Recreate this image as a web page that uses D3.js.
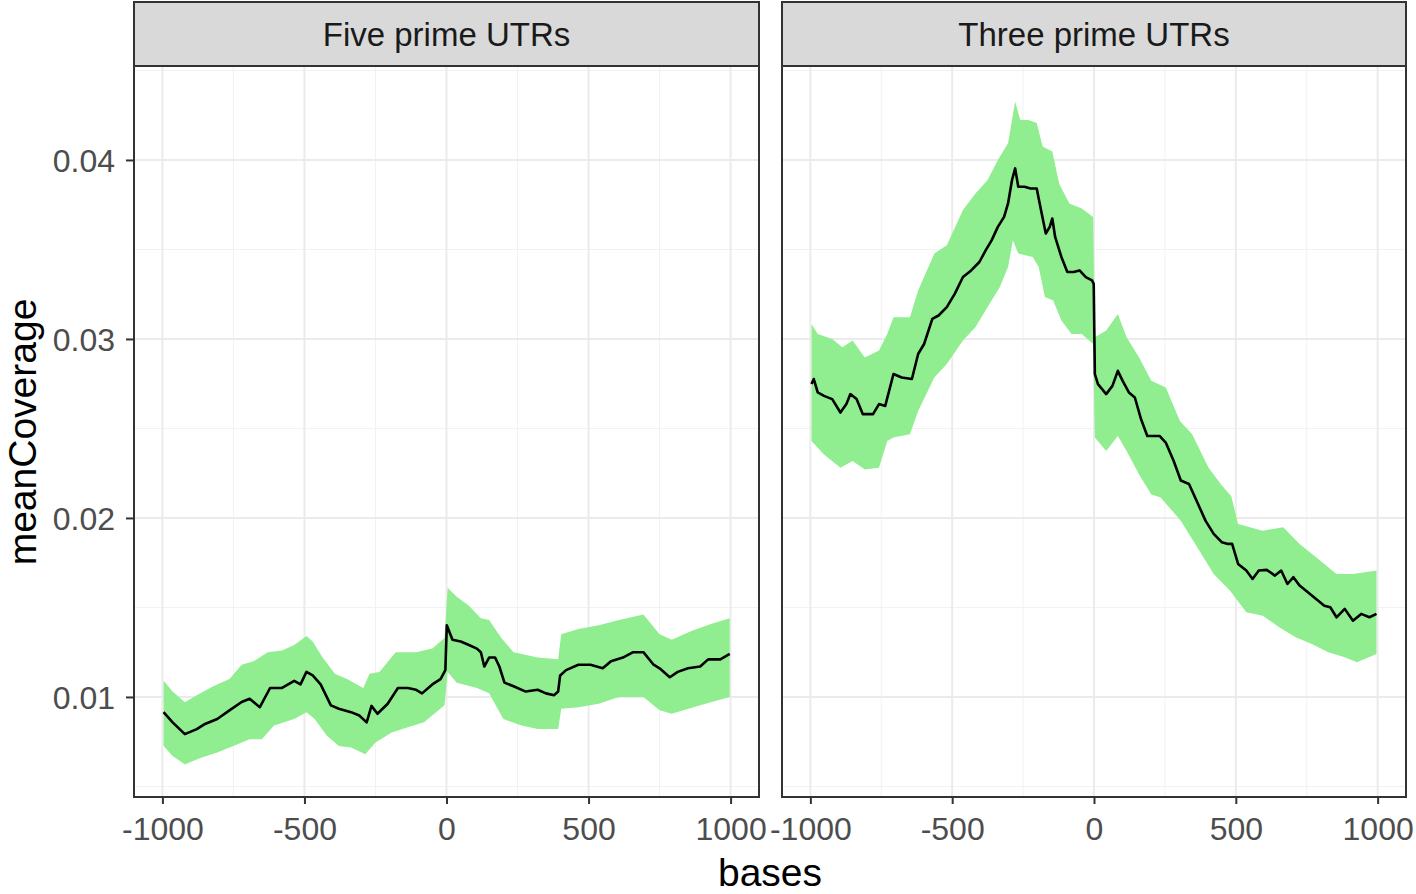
<!DOCTYPE html>
<meta charset="utf-8">
<style>
body { margin:0; background:#fff; font-family:"Liberation Sans", Arial, sans-serif; }
.grid-major { stroke:#ebebeb; stroke-width:2px; }
.grid-minor { stroke:#f2f2f2; stroke-width:1px; }
.axis path, .axis line { stroke:#333333; stroke-width:2px; }
.axis text { fill:#4d4d4d; font-size:32px; font-family:"Liberation Sans", Arial, sans-serif; }
.ribbon { fill:#90ee90; stroke:none; }
.line { fill:none; stroke:#000; stroke-width:2.6px; stroke-linejoin:round; }
.strip { fill:#d9d9d9; stroke:#333333; stroke-width:2px; }
.striptext { fill:#1a1a1a; font-size:33px; }
.title { fill:#000; font-size:39px; }
</style>
<body>
<div id="chart"></div>
<script src="https://d3js.org/d3.v7.min.js"></script>
<script>
// facet labels
var facets = ["Five prime UTRs", "Three prime UTRs"];
var xTicks = [-1000, -500, 0, 500, 1000];
var yTicks = [0.01, 0.02, 0.03, 0.04];

// Five prime UTRs: mean line
var fiveMeanX = [-996,-964,-921,-879,-850,-807,-764,-721,-693,-657,-621,-579,-536,-514,-493,-471,-443,-407,-379,-336,-307,-281,-264,-243,-207,-171,-136,-107,-86,-50,-21,-4,1,21,50,79,107,121,133,150,171,186,204,236,279,321,350,379,393,400,421,464,507,550,579,621,657,693,729,750,786,814,850,893,921,964,997];
var fiveMeanY = [0.00915,0.00858,0.00792,0.0082,0.00849,0.00877,0.00925,0.00972,0.0099,0.00943,0.0105,0.0105,0.0109,0.0107,0.0114,0.0112,0.0107,0.00953,0.00934,0.00915,0.00896,0.00858,0.0095,0.00906,0.00962,0.0105,0.0105,0.0104,0.0102,0.0107,0.0110,0.0115,0.0140,0.0132,0.0131,0.0129,0.0127,0.0125,0.0117,0.0122,0.0122,0.0117,0.0108,0.0106,0.0103,0.0104,0.0102,0.0101,0.0103,0.0112,0.0115,0.0118,0.0118,0.0116,0.0120,0.0122,0.0125,0.0125,0.0118,0.0116,0.0111,0.0114,0.0116,0.0117,0.0121,0.0121,0.0124];
// Five prime UTRs: ribbon upper edge
var fiveHiX = [-996,-964,-921,-879,-821,-764,-721,-679,-629,-579,-536,-493,-471,-436,-393,-350,-293,-271,-236,-179,-107,-50,-7,4,36,79,121,150,193,236,321,393,404,464,536,607,693,750,793,864,936,997];
var fiveHiY = [0.0109,0.0103,0.0097,0.0101,0.0106,0.0110,0.0118,0.0120,0.0125,0.0126,0.0129,0.0134,0.0131,0.0122,0.0113,0.0110,0.0105,0.0113,0.0114,0.0125,0.0125,0.0127,0.0133,0.0161,0.0156,0.0151,0.0144,0.0143,0.0133,0.0125,0.0122,0.0121,0.0135,0.0138,0.0140,0.0143,0.0146,0.0135,0.0132,0.0137,0.0141,0.0144];
// Five prime UTRs: ribbon lower edge
var fiveLoX = [-996,-964,-921,-864,-807,-750,-693,-650,-607,-536,-493,-464,-421,-379,-336,-286,-250,-193,-136,-79,-7,4,36,107,150,200,264,321,393,404,464,536,607,693,750,793,893,997];
var fiveLoY = [0.00726,0.0067,0.00623,0.0066,0.00689,0.00726,0.00764,0.00764,0.0084,0.00877,0.00915,0.00877,0.00783,0.00726,0.00717,0.0068,0.00745,0.00802,0.0083,0.00858,0.00953,0.0114,0.0108,0.0105,0.0102,0.00877,0.0084,0.00821,0.00821,0.00934,0.00943,0.00962,0.0100,0.0100,0.00925,0.00906,0.00953,0.0100];

// Three prime UTRs: mean line
var threeMeanX = [-996,-988,-974,-952,-923,-894,-873,-859,-837,-815,-779,-758,-736,-707,-678,-642,-620,-599,-570,-548,-519,-491,-462,-433,-404,-382,-361,-339,-317,-303,-289,-278,-267,-245,-224,-202,-188,-170,-156,-147,-137,-115,-94,-72,-51,-29,-7,-1,3,14,43,65,84,101,123,144,166,188,209,231,253,281,306,335,364,393,422,451,472,487,508,537,559,581,609,638,660,682,703,725,754,783,812,833,855,884,913,942,971,996];
var threeMeanY = [0.02748,0.02776,0.02701,0.02682,0.02664,0.02589,0.02636,0.02692,0.02664,0.0258,0.0258,0.02636,0.02626,0.02804,0.02785,0.02776,0.02916,0.02972,0.03112,0.03131,0.03178,0.03252,0.03346,0.03383,0.0343,0.03495,0.03551,0.03626,0.03682,0.03757,0.03888,0.03953,0.0385,0.0385,0.03841,0.03841,0.03729,0.03589,0.03626,0.03673,0.0357,0.03458,0.03374,0.03374,0.03383,0.03346,0.03327,0.03308,0.02804,0.02748,0.02692,0.02738,0.02822,0.02766,0.02701,0.02673,0.02551,0.02458,0.02458,0.02458,0.02421,0.02318,0.02209,0.0219,0.02088,0.01985,0.01911,0.01864,0.01855,0.01855,0.01743,0.01706,0.01659,0.01706,0.0171,0.01678,0.01706,0.01631,0.01669,0.01622,0.01585,0.01547,0.0151,0.01501,0.01445,0.01492,0.01426,0.01464,0.01445,0.01464];
// Three prime UTRs: ribbon upper edge
var threeHiX = [-996,-974,-923,-887,-851,-808,-758,-729,-707,-649,-620,-563,-519,-462,-418,-375,-339,-303,-278,-260,-231,-202,-181,-147,-123,-87,-43,-3,3,43,84,115,159,202,253,303,346,404,448,484,508,595,667,725,797,855,913,996];
var threeHiY = [0.03084,0.03028,0.03,0.02953,0.02991,0.02897,0.02935,0.03028,0.03121,0.03121,0.03271,0.03477,0.03523,0.0372,0.03813,0.03888,0.04,0.04093,0.04327,0.04224,0.04224,0.04206,0.04075,0.04047,0.03869,0.03757,0.03729,0.03682,0.03009,0.03047,0.0314,0.03009,0.02897,0.02766,0.02729,0.02542,0.02467,0.0228,0.02187,0.02121,0.01966,0.01929,0.01948,0.01855,0.01762,0.01687,0.01687,0.01706];
// Three prime UTRs: ribbon lower edge
var threeLoX = [-996,-952,-894,-851,-808,-758,-729,-707,-649,-620,-563,-519,-462,-418,-375,-332,-303,-286,-267,-216,-195,-173,-144,-115,-79,-43,-3,3,43,84,115,159,202,234,306,364,422,479,537,595,653,711,768,826,884,927,996];
var threeLoY = [0.0243,0.02355,0.0228,0.02318,0.02271,0.0228,0.0243,0.02449,0.02467,0.02598,0.02785,0.0286,0.02991,0.03065,0.03178,0.0329,0.03402,0.03551,0.03477,0.03458,0.03402,0.03234,0.03215,0.03103,0.03028,0.03028,0.02972,0.02449,0.02374,0.02458,0.02374,0.02243,0.02131,0.02115,0.01985,0.01836,0.01687,0.01594,0.01473,0.01454,0.01389,0.01333,0.01296,0.0125,0.01222,0.01194,0.0124];

var W = 1416, H = 894;
var panelTop = 66, panelBottom = 797, stripTop = 2;
var panels = [
  {name: facets[0], left: 134, right: 759,
   mx: fiveMeanX, my: fiveMeanY, hx: fiveHiX, hy: fiveHiY, lx: fiveLoX, ly: fiveLoY},
  {name: facets[1], left: 782, right: 1406,
   mx: threeMeanX, my: threeMeanY, hx: threeHiX, hy: threeHiY, lx: threeLoX, ly: threeLoY}
];

var svg = d3.select("#chart").append("svg")
    .attr("width", W)
    .attr("height", H);

// shared y scale
var y = d3.scaleLinear().domain([0.00441, 0.04525]).range([panelBottom, panelTop]);

panels.forEach(function(p) {
  var x = d3.scaleLinear().domain([-1100, 1100]).range([p.left, p.right]);
  var g = svg.append("g");

  // minor gridlines
  g.selectAll(".gx-minor").data([-750, -250, 250, 750]).enter().append("line")
    .attr("class", "grid-minor")
    .attr("x1", function(d) { return x(d); }).attr("x2", function(d) { return x(d); })
    .attr("y1", panelTop).attr("y2", panelBottom);
  g.selectAll(".gy-minor").data([0.005, 0.015, 0.025, 0.035, 0.045]).enter().append("line")
    .attr("class", "grid-minor")
    .attr("x1", p.left).attr("x2", p.right)
    .attr("y1", function(d) { return y(d); }).attr("y2", function(d) { return y(d); });
  // major gridlines
  g.selectAll(".gx").data(xTicks).enter().append("line")
    .attr("class", "grid-major")
    .attr("x1", function(d) { return x(d); }).attr("x2", function(d) { return x(d); })
    .attr("y1", panelTop).attr("y2", panelBottom);
  g.selectAll(".gy").data(yTicks).enter().append("line")
    .attr("class", "grid-major")
    .attr("x1", p.left).attr("x2", p.right)
    .attr("y1", function(d) { return y(d); }).attr("y2", function(d) { return y(d); });

  // ribbon: upper edge forward, lower edge back
  var hi = p.hx.map(function(d, i) { return [d, p.hy[i]]; });
  var lo = p.lx.map(function(d, i) { return [d, p.ly[i]]; }).reverse();
  var path = d3.line()
    .x(function(d) { return x(d[0]); })
    .y(function(d) { return y(d[1]); });
  g.append("path")
    .attr("class", "ribbon")
    .attr("d", path(hi.concat(lo)) + "Z");

  // mean line
  var mean = p.mx.map(function(d, i) { return [d, p.my[i]]; });
  g.append("path")
    .attr("class", "line")
    .attr("d", path(mean));

  // panel border
  g.append("rect")
    .attr("x", p.left).attr("y", panelTop)
    .attr("width", p.right - p.left).attr("height", panelBottom - panelTop)
    .attr("fill", "none").attr("stroke", "#333333").attr("stroke-width", 2);

  // strip
  g.append("rect")
    .attr("class", "strip")
    .attr("x", p.left).attr("y", stripTop)
    .attr("width", p.right - p.left).attr("height", panelTop - stripTop);
  g.append("text")
    .attr("class", "striptext")
    .attr("x", (p.left + p.right) / 2).attr("y", panelTop - 20)
    .attr("text-anchor", "middle")
    .text(p.name);

  // x axis (plain hyphen minus like the original)
  var xa = g.append("g")
    .attr("class", "axis")
    .attr("transform", "translate(0," + panelBottom + ")")
    .call(d3.axisBottom(x).tickValues(xTicks).tickSize(7).tickPadding(6)
      .tickFormat(function(d) { return String(d); }));
  xa.select(".domain").remove();
  xa.selectAll("text").attr("dy", "0.95em");
});

// y axis on first panel
var ya = svg.append("g")
  .attr("class", "axis")
  .attr("transform", "translate(" + panels[0].left + ",0)")
  .call(d3.axisLeft(y).tickValues(yTicks).tickSize(8).tickPadding(11).tickFormat(d3.format(".2f")));
ya.select(".domain").remove();
ya.selectAll("text").attr("dy", "0.36em");

// axis titles
svg.append("text")
  .attr("class", "title")
  .attr("x", 770).attr("y", 886)
  .attr("text-anchor", "middle")
  .text("bases");
svg.append("text")
  .attr("class", "title")
  .attr("transform", "translate(36,432) rotate(-90)")
  .attr("text-anchor", "middle")
  .text("meanCoverage");
</script>
</body>
